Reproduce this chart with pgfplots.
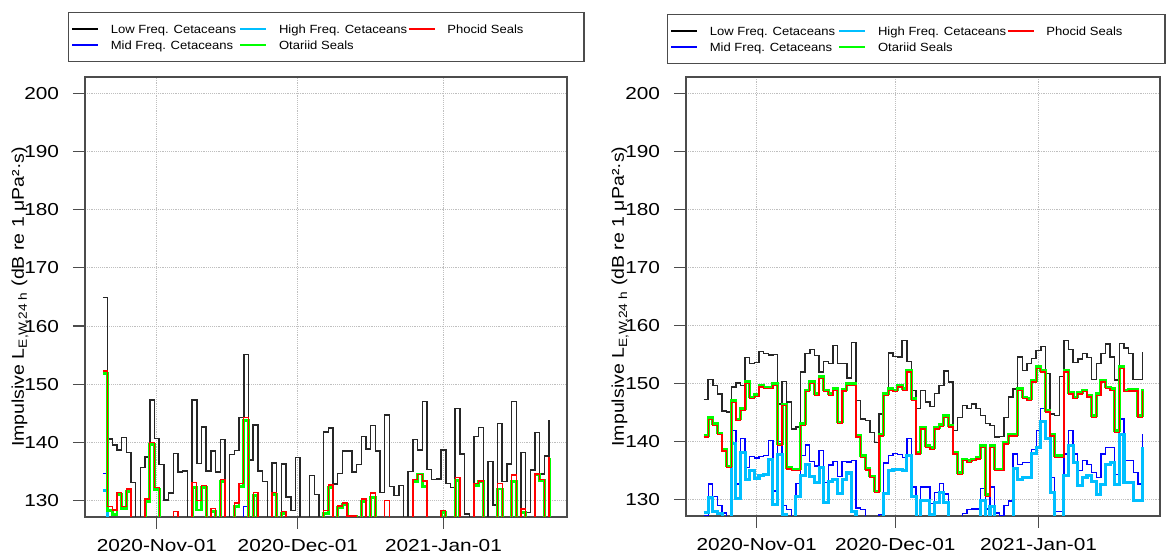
\documentclass[border=0pt]{standalone}
\usepackage{fontspec}
\usepackage{pgfplots}
\usepackage{pgfplotstable}
\pgfplotsset{compat=1.18}
\setmainfont{Liberation Sans}
\newfontfamily\tickfont{Liberation Sans}[FakeStretch=1.2]
\newfontfamily\labfont{Liberation Sans}[FakeStretch=1.15]
\newfontfamily\legfont{Liberation Sans}[FakeStretch=1.1]
\newcommand\ticksize{\tickfont\fontsize{13pt}{14pt}\selectfont}
\newcommand\labsize{\labfont\fontsize{12.75pt}{14pt}\selectfont}
\newcommand\legsize{\legfont\fontsize{8.9pt}{10pt}\selectfont}
\definecolor{rblue}{RGB}{0,0,255}
\definecolor{rcyan}{RGB}{0,191,255}
\definecolor{rgreen}{RGB}{0,255,0}
\definecolor{rred}{RGB}{255,0,0}

% columns: x = days after 2020-11-01; LF MF HF OS PS
\pgfplotstableread{
x LF MF HF OS PS
-11.5 164.9 134.7 131.8 151.8 152.3
-10.5 140.6 120 120 128.3 129.0
-9.5 139.6 120 120 127.6 128.4
-8.5 138.7 120 120 131.0 131.4
-7.5 140.9 120 120 128.6 129.0
-6.5 138.3 120 120 131.6 132.0
-5.5 133.1 120 120 120 120
-4.5 120 120 120 120 120
-3.5 135.7 120 120 120 120
-2.5 137.5 120 120 129.9 130.3
-1.5 147.3 120 120 139.6 140.0
-0.5 140.7 120 120 131.9 132.3
0.5 136.2 120 120 120 120
1.5 130.1 120 120 120 120
2.5 131.3 120 120 120 120
3.5 138.1 120 120 120 128.2
4.5 134.9 120 120 120 120
5.5 135.1 120 120 120 120
6.5 120 120 120 120 120
7.5 147.3 120 120 132.2 133.1
8.5 136.4 120 120 128.4 130.0
9.5 142.7 120 120 132.2 132.6
10.5 135.1 120 120 120 120
11.5 138.5 120 120 128.1 128.7
12.5 134.9 120 120 120 120
13.5 140.5 120 120 133.3 133.7
14.5 120 120 120 120 120
15.5 137.9 120 120 120 120
16.5 138.6 120 120 129.0 129.6
17.5 144.3 120 120 132.4 133.0
18.5 155.1 129.0 120 143.8 144.3
19.5 137.0 120 120 120 120
20.5 143.0 120 120 130.9 131.4
21.5 135.1 120 120 120 120
22.5 133.3 120 120 120 120
23.5 120 120 120 120 120
24.5 136.5 120 120 131.0 131.4
25.5 120 120 120 120 120
26.5 136.3 120 120 127.8 128.2
27.5 130.6 120 120 120 120
28.5 128.3 120 120 120 120
29.5 137.4 120 120 120 120
30.5 120 120 120 120 120
31.5 120 120 120 120 120
32.5 134.3 120 120 120 120
33.5 131.1 120 120 120 120
34.5 120 120 120 120 120
35.5 141.8 120 120 127.8 128.3
36.5 142.5 120 120 132.3 132.7
37.5 132.9 120 120 120 120
38.5 134.7 120 120 128.9 129.1
39.5 138.5 120 120 129.3 129.6
40.5 138.5 120 120 127.3 127.4
41.5 134.9 120 120 127.3 127.4
42.5 136.2 120 120 120 120
43.5 141.0 120 120 129.8 130.3
44.5 138.9 120 120 120 120
45.5 142.9 120 120 130.5 131.3
46.5 138.5 120 120 120 120
47.5 131.4 120 120 120 120
48.5 144.7 120 120 120 130.0
49.5 132.4 120 120 120 120
50.5 130.9 120 120 120 120
51.5 132.6 120 120 120 120
52.5 120 120 120 120 120
53.5 135.0 120 120 120 120
54.5 140.5 120 120 133.3 133.7
55.5 138.7 120 120 134.6 134.5
56.5 147.0 120 120 132.4 133.4
57.5 135.4 120 120 120 120
58.5 133.6 120 120 120 120
59.5 133.7 120 120 120 120
60.5 138.7 120 120 128.0 128.3
61.5 133.0 120 120 120 120
62.5 132.3 120 120 120 120
63.5 145.8 120 120 133.5 134.0
64.5 138.0 120 120 120 120
65.5 127.7 120 120 120 120
66.5 120 120 120 120 120
67.5 141.0 120 120 132.6 133.0
68.5 142.6 120 120 133.3 133.4
69.5 120 120 120 120 120
70.5 136.7 120 120 120 120
71.5 129.3 120 120 120 120
72.5 143.3 120 120 132.0 133.0
73.5 133.3 120 120 120 120
74.5 136.3 120 120 120 120
75.5 147.0 120 120 133.3 134.4
76.5 120 120 120 120 120
77.5 138.3 120 120 128.0 128.6
78.5 128.0 120 120 120 120
79.5 135.3 120 120 120 120
80.5 141.7 120 120 134.5 134.6
81.5 134.6 120 120 133.5 133.7
82.5 137.7 120 120 120 120
83.5 143.8 120 120 137.4 137.5
}\tableLeft

\pgfplotstableread{
x LF MF HF OS PS
-11.5 147.3 127.3 127.8 141.1 140.8
-10.5 150.7 132.7 130.4 144.1 143.8
-9.5 149.7 130.6 128.0 143.1 142.8
-8.5 148.2 129.0 127.6 141.5 141.2
-7.5 145.3 127.7 120 138.7 138.4
-6.5 145.1 120 120 135.8 135.5
-5.5 149.4 141.9 139.7 147.1 146.8
-4.5 150.1 132.7 130.2 143.9 143.6
-3.5 149.7 140.5 138.2 145.7 145.4
-2.5 154.5 135.5 133.5 150.3 150.0
-1.5 153.5 137.4 135.0 147.7 147.4
-0.5 153.6 137.2 133.7 148.1 147.8
0.5 155.5 137.4 134.1 149.7 149.4
1.5 155.2 137.6 134.3 149.4 149.1
2.5 154.9 140.2 137.0 149.4 149.1
3.5 155.0 131.5 129.2 150.0 149.7
4.5 146.5 140.0 137.8 139.6 139.3
5.5 150.4 129.0 127.4 146.5 146.2
6.5 146.8 128.3 120 135.6 135.3
7.5 142.2 120 120 135.3 135.0
8.5 142.5 132.8 130.5 135.3 135.0
9.5 152.0 137.6 134.2 143.1 142.8
10.5 155.2 139.4 136.0 148.9 148.6
11.5 155.9 136.6 134.0 150.3 150.0
12.5 154.8 135.8 133.0 148.3 148.0
13.5 152.0 138.5 135.6 151.2 150.9
14.5 153.8 133.0 129.5 148.9 148.6
15.5 153.5 136.0 133.2 148.3 148.0
16.5 156.6 136.6 133.5 149.1 148.8
17.5 153.5 134.0 131.0 143.4 143.1
18.5 153.5 136.6 133.5 149.0 148.7
19.5 151.0 136.5 134.6 150.0 149.7
20.5 157.1 136.8 128.0 150.0 149.7
21.5 147.1 128.6 120 141.1 140.8
22.5 143.9 128.3 120 137.6 137.3
23.5 143.6 120 120 135.4 135.1
24.5 141.6 120 120 134.1 133.8
25.5 139.9 120 120 131.5 131.2
26.5 144.8 127.5 120 141.3 141.0
27.5 148.0 136.3 131.0 148.3 148.0
28.5 155.3 137.6 135.0 149.1 148.8
29.5 154.7 138.0 135.2 148.9 148.6
30.5 154.6 137.8 135.2 149.7 149.4
31.5 157.4 137.3 135.0 149.1 148.8
32.5 153.8 140.6 137.6 152.3 152.0
33.5 148.8 132.2 130.5 147.4 147.1
34.5 145.7 120 120 138.2 137.9
35.5 148.8 132.2 129.8 142.5 142.2
36.5 146.8 132.2 129.8 139.3 139.0
37.5 146.1 129.3 127.5 139.0 138.7
38.5 148.3 131.3 129.5 142.5 142.2
39.5 149.7 132.8 131.2 142.9 142.6
40.5 152.2 131.0 129.5 144.5 144.2
41.5 150.3 120 120 142.8 142.5
42.5 141.9 120 120 138.2 137.9
43.5 144.2 120 120 134.7 134.4
44.5 146.2 127.6 120 137.0 136.7
45.5 145.7 128.3 120 136.7 136.4
46.5 146.5 128.4 120 137.0 136.7
47.5 145.7 128.4 120 137.3 137.0
48.5 144.5 131.9 129.8 139.3 139.0
49.5 143.1 128.4 120 130.9 130.6
50.5 142.8 132.2 128.9 139.3 139.0
51.5 140.8 127.7 120 135.3 135.0
52.5 140.9 127.3 120 135.3 135.0
53.5 144.2 129.0 120 139.9 139.6
54.5 147.7 129.8 120 141.3 141.0
55.5 149.1 137.9 135.3 141.3 141.0
56.5 154.6 136.1 133.5 149.1 148.8
57.5 152.3 136.4 133.8 147.7 147.4
58.5 153.5 136.4 133.8 147.4 147.1
59.5 154.3 138.7 137.9 150.6 150.3
60.5 155.7 141.9 139.0 152.9 152.6
61.5 156.4 145.7 143.4 152.3 152.0
62.5 151.7 145.5 140.5 145.4 145.1
63.5 144.8 133.8 131.2 141.3 141.0
64.5 144.5 128.0 120 137.6 137.3
65.5 151.2 128.0 120 137.6 137.3
66.5 157.4 137.9 134.1 152.3 152.0
67.5 155.9 141.9 139.3 148.5 148.2
68.5 153.6 137.9 136.4 147.7 147.4
69.5 154.2 135.0 132.4 148.5 148.2
70.5 155.2 136.7 133.8 148.9 148.6
71.5 154.5 136.1 134.1 148.0 147.7
72.5 150.7 134.7 133.2 144.5 144.2
73.5 153.5 133.8 130.9 148.3 148.0
74.5 155.2 137.9 132.7 150.6 150.3
75.5 156.8 139.0 136.1 149.4 149.1
76.5 154.6 139.0 136.4 149.1 148.8
77.5 150.6 134.4 132.7 141.9 141.6
78.5 156.9 143.9 141.3 152.9 152.6
79.5 156.1 136.7 132.9 148.9 148.6
80.5 155.2 136.7 132.9 149.0 148.7
81.5 150.7 134.7 129.8 149.0 148.7
82.5 150.7 132.7 129.8 144.5 144.2
83.5 155.4 141.3 139.0 149.0 148.7
}\tableRight

\pgfplotsset{
  panel/.style={
    scale only axis,
    xmin=-15.3, xmax=87.3, ymin=127.2, ymax=202.8,
    xtick={0,30,61},
    xticklabels={2020-Nov-01,2020-Dec-01,2021-Jan-01},
    ytick={130,140,...,200},
    grid=major,
    major grid style={densely dotted, black!25, line width=0.7pt},
    axis line style={black!70, line width=1pt},
    tick style={black!70, line width=0.9pt},
    tick align=outside, major tick length=9pt, tick pos=left,
    ticklabel style={font=\ticksize},
    yticklabel style={xshift=-7pt},
    xticklabel style={yshift=-4pt},
    /pgf/number format/assume math mode=true,
    ylabel={Impulsive L\textsubscript{E,W,24 h} (dB re 1 μPa²·s)},
    legend columns=3, legend cell align=left,
    legend style={draw=black!70, line width=0.8pt, font=\legsize,
      inner xsep=2pt, inner ysep=6.9pt,
      nodes={inner sep=0pt, text height=8.5pt, text depth=1.8pt},
      /tikz/every odd column/.append style={column sep=8.7pt},
      row sep=2.15pt},
    legend image code/.code={\draw[#1, line width=1.5pt] (0pt,0pt) -- (19.5pt,0pt);},
  },
  lf/.style={const plot, black!85, line width=1.1pt, forget plot},
  mf/.style={const plot, rblue, line width=1pt, forget plot},
  hf/.style={const plot, rcyan, line width=2.3pt, forget plot},
  os/.style={const plot, rgreen, line width=2.1pt, forget plot},
  ps/.style={const plot, rred, line width=1pt, forget plot},
}

\begin{document}
\begin{tikzpicture}
\path[use as bounding box] (0pt,0pt) rectangle (878.25pt,420pt);

\begin{axis}[panel, at={(63.75pt,32.25pt)}, anchor=south west,
  width=361.5pt, height=330pt,
  ylabel style={font=\labsize, at={(axis description cs:-0.135,0.5)}, anchor=center},
  legend style={at={(axis description cs:-0.0353,1.1477)}, anchor=north west}]
\addlegendimage{black}
\addlegendentry{\makebox[96.5pt][l]{Low Freq. Cetaceans}}
\addlegendimage{rcyan}
\addlegendentry{\makebox[96.5pt][l]{High Freq. Cetaceans}}
\addlegendimage{rred}
\addlegendentry{\makebox[100.5pt][l]{Phocid Seals}}
\addlegendimage{rblue}
\addlegendentry{\makebox[96.5pt][l]{Mid Freq. Cetaceans}}
\addlegendimage{rgreen}
\addlegendentry{\makebox[96.5pt][l]{Otariid Seals}}
\addplot[lf] table[x=x, y=LF] {\tableLeft};
\addplot[mf] table[x=x, y=MF] {\tableLeft};
\addplot[hf] table[x=x, y=HF] {\tableLeft};
\addplot[os] table[x=x, y=OS] {\tableLeft};
\addplot[ps] table[x=x, y=PS] {\tableLeft};
\end{axis}

\begin{axis}[panel, at={(514.5pt,33pt)}, anchor=south west,
  width=355.5pt, height=329.25pt,
  ylabel style={font=\labsize, at={(axis description cs:-0.139,0.5)}, anchor=center},
  legend style={at={(axis description cs:-0.0401,1.1435)}, anchor=north west}]
\addlegendimage{black}
\addlegendentry{\makebox[96.5pt][l]{Low Freq. Cetaceans}}
\addlegendimage{rcyan}
\addlegendentry{\makebox[96.5pt][l]{High Freq. Cetaceans}}
\addlegendimage{rred}
\addlegendentry{\makebox[87pt][l]{Phocid Seals}}
\addlegendimage{rblue}
\addlegendentry{\makebox[96.5pt][l]{Mid Freq. Cetaceans}}
\addlegendimage{rgreen}
\addlegendentry{\makebox[96.5pt][l]{Otariid Seals}}
\addplot[lf] table[x=x, y=LF] {\tableRight};
\addplot[mf] table[x=x, y=MF] {\tableRight};
\addplot[hf] table[x=x, y=HF] {\tableRight};
\addplot[os] table[x=x, y=OS] {\tableRight};
\addplot[ps] table[x=x, y=PS] {\tableRight};
\end{axis}
\end{tikzpicture}
\end{document}
